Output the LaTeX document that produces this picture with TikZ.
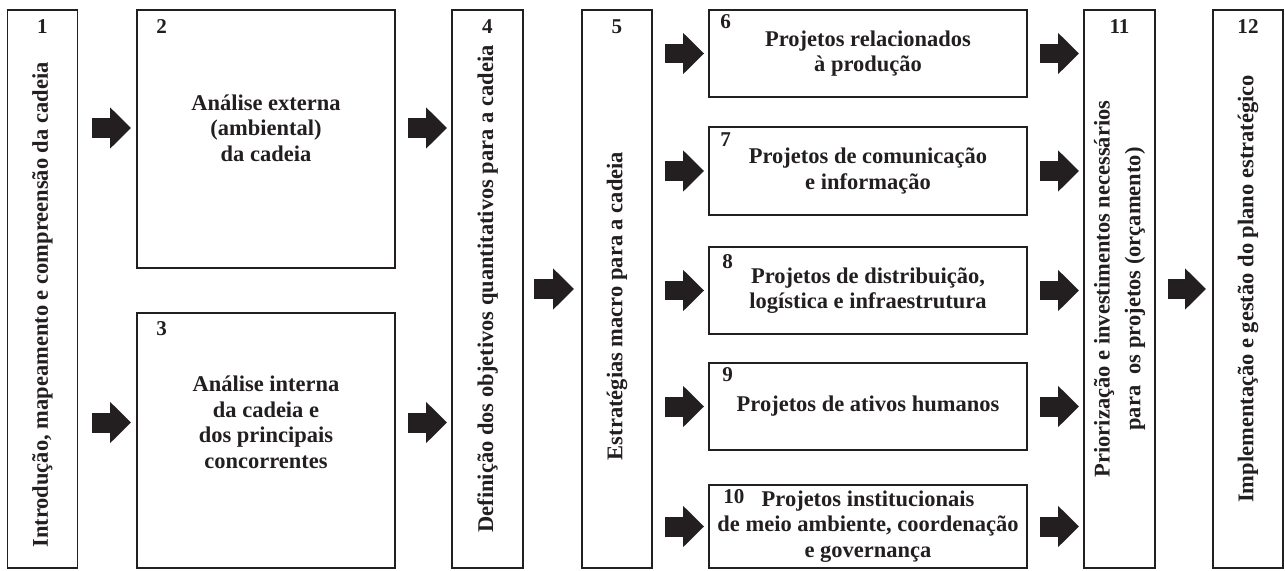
\documentclass[tikz,border=0pt]{standalone}
\usepackage{fontspec}
\setmainfont{Liberation Serif}
\usetikzlibrary{arrows.meta,positioning}

\definecolor{ink}{HTML}{231F20}

\begin{document}
\begin{tikzpicture}[
    x=0.02cm, y=-0.02cm,
    box/.style={draw=ink, line width=1.1pt, rectangle, inner sep=0pt, text=ink},
    tallbox/.style={box, minimum width=1.4cm, minimum height=11.16cm},
    projbox/.style={box, minimum width=6.36cm, minimum height=1.74cm, align=center, font=\bfseries\fontsize{12.8}{14.5}\selectfont},
    num/.style={text=ink, inner sep=0pt, font=\bfseries\fontsize{12}{14}\selectfont},
    txt/.style={align=center, text=ink, inner sep=0pt, font=\bfseries\fontsize{12.8}{14.5}\selectfont},
    vtxt/.style={txt, rotate=90},
    fat/.style={ink, line width=0.4cm, -{Triangle[length=0.42cm,width=0.8cm]}, shorten <=0.24cm, shorten >=0.08cm}
]
\useasboundingbox (0,0) rectangle (1285,571);

% Stage boxes
\node[tallbox] (b1) at (42.5,289) {};
\node[box, minimum width=5.16cm, minimum height=5.16cm] (b2) at (266,139) {};
\node[box, minimum width=5.16cm, minimum height=5.1cm] (b3) at (266,440.5) {};
\node[tallbox, minimum width=1.42cm] (b4) at (487.5,289) {};
\node[tallbox] (b5) at (617,289) {};
\node[tallbox, minimum width=1.42cm] (b11) at (1119.5,289) {};
\node[tallbox] (b12) at (1248,289) {};

% Project boxes
\node[projbox] (b6) at (868,53.5) {Projetos relacionados\\à produção};
\node[projbox, minimum height=1.76cm] (b7) at (868,171) {Projetos de comunicação\\e informação};
\node[projbox] (b8) at (868,290.5) {Projetos de distribuição,\\logística e infraestrutura};
\node[projbox] (b9) at (868,406.5) {Projetos de ativos humanos};
\node[projbox, minimum height=1.66cm] (b10) at (868,526.5) {Projetos institucionais\\de meio ambiente, coordenação\\e governança};

% Numbers
\node[num, below=0.2cm of b1.north] (n1) {1};
\node[num, below right=0.2cm and 0.4cm of b2.north west] (n2) {2};
\node[num, below right=0.18cm and 0.4cm of b3.north west] (n3) {3};
\node[num, below=0.2cm of b4.north] (n4) {4};
\node[num, below=0.2cm of b5.north] (n5) {5};
\node[num, below right=0.1cm and 0.24cm of b6.north west] (n6) {6};
\node[num, below right=0.12cm and 0.24cm of b7.north west] (n7) {7};
\node[num, below right=0.16cm and 0.28cm of b8.north west] (n8) {8};
\node[num, below right=0.1cm and 0.28cm of b9.north west] (n9) {9};
\node[num, below right=0.1cm and 0.3cm of b10.north west] (n10) {10};
\node[num, below=0.2cm of b11.north] (n11) {11};
\node[num, below=0.2cm of b12.north] (n12) {12};

% Texts
\node[vtxt] (t1) at ([yshift=-0.32cm]b1.center) {Introdução, mapeamento e compreensão da cadeia};
\node[txt] (t2) at ([yshift=0.22cm]b2.center) {Análise externa\\(ambiental)\\da cadeia};
\node[txt] (t3) at ([yshift=0.36cm]b3.center) {Análise interna\\da cadeia e\\dos principais\\concorrentes};
\node[vtxt] (t4) at (b4) {Definição dos objetivos quantitativos para a cadeia};
\node[vtxt] (t5) at ([yshift=-0.34cm]b5.center) {Estratégias macro para a cadeia};
\node[vtxt, font=\bfseries\fontsize{12.8}{17.5}\selectfont] (t11) at (b11) {Priorização e investimentos necessários\\para~~os projetos (orçamento)};
\node[vtxt] (t12) at (b12) {Implementação e gestão do plano estratégico};

% Block arrows
\draw[fat, shorten <=0.28cm, shorten >=0.1cm] (b1.east |- t2) -- (b2.west |- t2);
\draw[fat, shorten <=0.28cm, shorten >=0.1cm] (b1.east |- t3) -- (b3.west |- t3);
\draw[fat] (b2.east |- t2) -- (b4.west |- t2);
\draw[fat] (b3.east |- t3) -- (b4.west |- t3);
\draw[fat, shorten <=0.2cm, shorten >=0.14cm] (b4) -- (b5);
\draw[fat] (b5.east |- b6) -- (b6.west);
\draw[fat] (b5.east |- b7) -- (b7.west);
\draw[fat] (b5.east |- b8) -- (b8.west);
\draw[fat] (b5.east |- b9) -- (b9.west);
\draw[fat] (b5.east |- b10) -- (b10.west);
\draw[fat] (b6.east) -- (b11.west |- b6);
\draw[fat] (b7.east) -- (b11.west |- b7);
\draw[fat] (b8.east) -- (b11.west |- b8);
\draw[fat] (b9.east) -- (b11.west |- b9);
\draw[fat] (b10.east) -- (b11.west |- b10);
\draw[fat, shorten >=0.12cm] (b11) -- (b12);

\end{tikzpicture}
\end{document}
